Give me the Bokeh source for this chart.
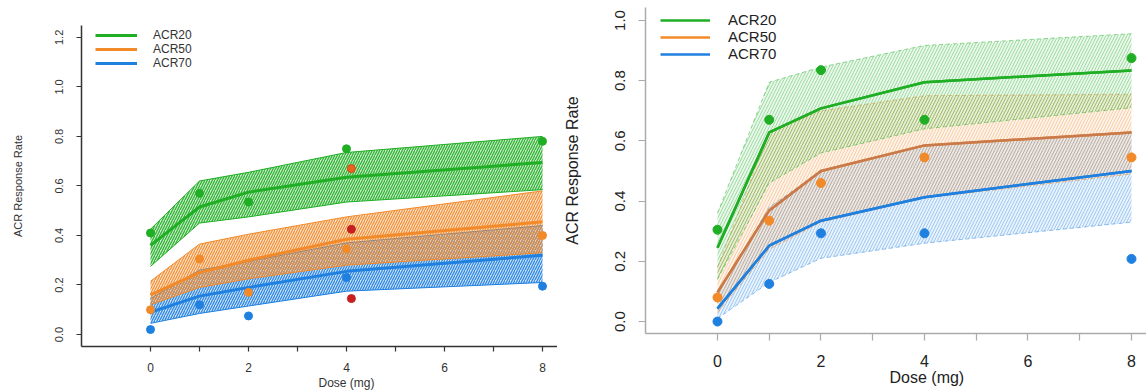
from bokeh.plotting import figure
from bokeh.layouts import row, column
from bokeh.models import FixedTicker, PrintfTickFormatter, Legend, LegendItem, Title
from bokeh.embed import file_html
from bokeh.resources import INLINE

FONT = "Liberation Sans"

# ---------------- data ----------------
doses = [0, 1, 2, 4, 8]
x_ticks = [0, 2, 4, 6, 8]
x_minor = [1, 3, 5, 7]
series = ["ACR20", "ACR50", "ACR70"]

# Left panel
L_obs20 = [0.41, 0.57, 0.535, 0.75, 0.78]
L_obs50 = [0.10, 0.305, 0.17, 0.345, 0.40]
L_obs70 = [0.02, 0.12, 0.075, 0.23, 0.195]
L_fit20 = [0.36, 0.515, 0.575, 0.635, 0.695]
L_up20 = [0.425, 0.62, 0.655, 0.735, 0.80]
L_lo20 = [0.275, 0.45, 0.475, 0.535, 0.585]
L_fit50 = [0.16, 0.25, 0.30, 0.385, 0.455]
L_up50 = [0.215, 0.365, 0.405, 0.475, 0.58]
L_lo50 = [0.12, 0.19, 0.225, 0.28, 0.33]
L_fit70 = [0.09, 0.155, 0.19, 0.255, 0.32]
L_up70 = [0.145, 0.26, 0.295, 0.37, 0.44]
L_lo70 = [0.045, 0.085, 0.115, 0.175, 0.21]
comp_dose = [4.1, 4.1, 4.1]
comp_vals = [0.67, 0.425, 0.145]
L_yticks = [0.0, 0.2, 0.4, 0.6, 0.8, 1.0, 1.2]

# Right panel
R_obs20 = [0.305, 0.67, 0.835, 0.67, 0.875]
R_obs50 = [0.08, 0.335, 0.46, 0.545, 0.545]
R_obs70 = [0.0, 0.125, 0.293, 0.293, 0.208]
R_fit20 = [0.245, 0.628, 0.708, 0.795, 0.834]
R_up20 = [0.36, 0.795, 0.845, 0.917, 0.956]
R_lo20 = [0.14, 0.46, 0.56, 0.64, 0.71]
R_fit50 = [0.097, 0.369, 0.50, 0.585, 0.628]
R_up50 = [0.18, 0.63, 0.70, 0.75, 0.755]
R_lo50 = [0.03, 0.24, 0.33, 0.41, 0.49]
R_fit70 = [0.043, 0.252, 0.335, 0.413, 0.50]
R_up70 = [0.09, 0.38, 0.50, 0.585, 0.63]
R_lo70 = [0.01, 0.13, 0.21, 0.26, 0.33]
R_yticks = [0.0, 0.2, 0.4, 0.6, 0.8, 1.0]

GREEN = "#1fae24"
ORANGE = "#f28a2a"
BLUE = "#1f80e0"
RED = "#c81e1e"
R_ORANGE_LINE = "#c97a4c"


def style_axes(p, ytick_vals, tick_font, ylab_font, axis_color, tick_out,
               label_standoff, ylabel_standoff, label_color):
    p.xaxis.ticker = FixedTicker(ticks=x_ticks, minor_ticks=x_minor)
    p.yaxis.ticker = FixedTicker(ticks=ytick_vals, minor_ticks=[])
    p.yaxis.formatter = PrintfTickFormatter(format="%.1f")
    p.yaxis.major_label_orientation = "vertical"
    for ax in (p.xaxis[0], p.yaxis[0]):
        ax.axis_line_color = axis_color
        ax.axis_line_width = 1.5
        ax.major_tick_line_color = axis_color
        ax.minor_tick_line_color = axis_color
        ax.major_tick_line_width = 1.2
        ax.minor_tick_line_width = 1.2
        ax.major_tick_in = 0
        ax.minor_tick_in = 0
        ax.major_tick_out = tick_out
        ax.minor_tick_out = tick_out
        ax.major_label_text_font = FONT
        ax.major_label_text_color = label_color
        ax.axis_label_text_font = FONT
        ax.axis_label_text_font_style = "normal"
        ax.axis_label_text_color = label_color
    p.xaxis.major_label_text_font_size = tick_font[0]
    p.yaxis.major_label_text_font_size = tick_font[1]
    p.xaxis.major_label_standoff = label_standoff[0]
    p.yaxis.major_label_standoff = label_standoff[1]
    p.yaxis.axis_label = "ACR Response Rate"
    p.yaxis.axis_label_text_font_size = ylab_font
    p.yaxis.axis_label_standoff = ylabel_standoff
    p.xgrid.visible = False
    p.ygrid.visible = False
    p.outline_line_color = None


# ---------------- left panel ----------------
pl = figure(width=557, height=390, x_range=(-1.408, 8.306), y_range=(-0.0485, 1.248),
            output_backend="svg", toolbar_location=None,
            min_border_left=81, min_border_right=0, min_border_top=25, min_border_bottom=44)
style_axes(pl, L_yticks, ("12px", "11px"), "11px", "#333333", 5, (11, 13), 29, "#333333")

left_sets = [
    (L_lo70, L_up70, L_fit70, L_obs70, BLUE),
    (L_lo50, L_up50, L_fit50, L_obs50, ORANGE),
    (L_lo20, L_up20, L_fit20, L_obs20, GREEN),
]
left_lines = {}
for lo, up, fit, obs, col in left_sets:
    pl.varea(x=doses, y1=lo, y2=up, fill_color=col, fill_alpha=0.22,
             hatch_pattern="/", hatch_color=col, hatch_alpha=0.9,
             hatch_scale=5, hatch_weight=1.3)
    pl.line(doses, up, line_color=col, line_width=1)
    pl.line(doses, lo, line_color=col, line_width=1)
    left_lines[col] = pl.line(doses, fit, line_color=col, line_width=3)
    pl.scatter(doses, obs, size=8, fill_color=col, line_color=col)
pl.scatter(comp_dose[:1], comp_vals[:1], size=8, fill_color="#e8641e", line_color="#d04a1a")
pl.scatter(comp_dose[1:], comp_vals[1:], size=8, fill_color=RED, line_color=RED)

leg_l = Legend(items=[LegendItem(label=series[0], renderers=[left_lines[GREEN]]),
                      LegendItem(label=series[1], renderers=[left_lines[ORANGE]]),
                      LegendItem(label=series[2], renderers=[left_lines[BLUE]])],
               location=(14, 276), glyph_width=42, glyph_height=14, label_height=14,
               label_standoff=16, spacing=0, padding=0, margin=0,
               border_line_color=None, background_fill_alpha=0,
               label_text_font=FONT, label_text_font_size="12px", label_text_color="#333333")
pl.add_layout(leg_l)
pl.add_layout(Title(text="Dose (mg)", align="left", offset=237, standoff=-2,
                    text_font=FONT, text_font_size="12px", text_font_style="normal",
                    text_color="#333333"), "below")

# ---------------- right panel ----------------
pr = figure(width=589, height=390, x_range=(-1.391, 8.29), y_range=(-0.0397, 1.043),
            output_backend="svg", toolbar_location=None,
            min_border_left=88, min_border_right=0, min_border_top=7, min_border_bottom=57)
style_axes(pr, R_yticks, ("16px", "15px"), "16px", "#aaaaaa", 7, (14, 13), 32, "#222222")

right_sets = [
    (R_lo70, R_up70, R_fit70, R_obs70, BLUE, BLUE),
    (R_lo50, R_up50, R_fit50, R_obs50, ORANGE, R_ORANGE_LINE),
    (R_lo20, R_up20, R_fit20, R_obs20, GREEN, GREEN),
]
for lo, up, fit, obs, col, lcol in right_sets:
    pr.varea(x=doses, y1=lo, y2=up, fill_color=col, fill_alpha=0.1,
             hatch_pattern="/", hatch_color=col, hatch_alpha=0.45,
             hatch_scale=6, hatch_weight=0.8)
    pr.line(doses, up, line_color=col, line_width=0.8, line_alpha=0.6, line_dash="4 3")
    pr.line(doses, lo, line_color=col, line_width=0.8, line_alpha=0.6, line_dash="4 3")
right_keys = {}
for lo, up, fit, obs, col, lcol in right_sets:
    # key-coloured line underneath, curve colour on top
    right_keys[col] = pr.line(doses, fit, line_color=col, line_width=2.5)
    pr.line(doses, fit, line_color=lcol, line_width=2.5)
    pr.scatter(doses, obs, size=9, fill_color=col, line_color=col)

leg_r = Legend(items=[LegendItem(label=series[0], renderers=[right_keys[GREEN]]),
                      LegendItem(label=series[1], renderers=[right_keys[ORANGE]]),
                      LegendItem(label=series[2], renderers=[right_keys[BLUE]])],
               location=(15, 271), glyph_width=50, glyph_height=16, label_height=16,
               label_standoff=18, spacing=0, padding=0, margin=0,
               border_line_color=None, background_fill_alpha=0,
               label_text_font=FONT, label_text_font_size="15px",
               label_text_color="#222222")
pr.add_layout(leg_r)
pr.add_layout(Title(text="Dose (mg)", align="left", offset=244, standoff=-5,
                    text_font=FONT, text_font_size="16px", text_font_style="normal",
                    text_color="#222222"), "below")

layout = row(column(pl), column(pr))
open("out.html", "w").write(file_html(layout, INLINE))
